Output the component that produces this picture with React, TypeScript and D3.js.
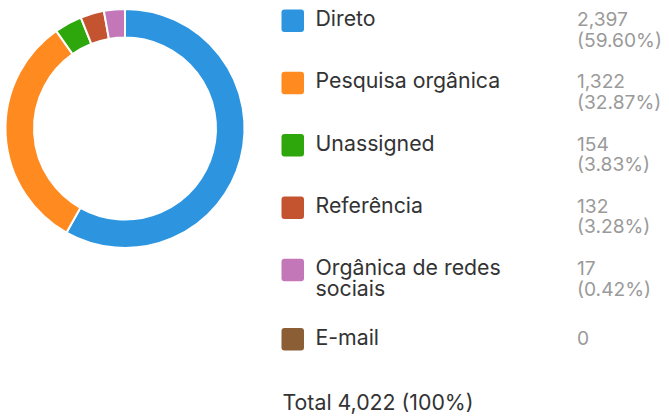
import React, { useMemo } from "react";
import * as d3 from "d3";

const categories = ["Direto", "Pesquisa orgânica", "Unassigned", "Referência", "Orgânica de redes sociais", "E-mail"];
const values = [2397, 1322, 154, 132, 17, 0];
const colors = ["#2D95E0", "#FF8A1F", "#2DA70B", "#C4532F", "#C376B8", "#8B5E35"];
const totalLabel = "Total";

const W = 669;
const H = 416;
const FONT = "Inter, 'Noto Sans', sans-serif";

function measure(text: string, size: number): number {
  const c = document.createElement("canvas").getContext("2d");
  if (!c) return text.length * size * 0.55;
  c.font = `${size}px Inter`;
  return c.measureText(text).width;
}

function wrap(text: string, size: number, maxW: number): string[] {
  const words = text.split(" ");
  const lines: string[] = [];
  let cur = "";
  for (const w of words) {
    const t = cur ? cur + " " + w : w;
    if (cur && measure(t, size) > maxW) {
      lines.push(cur);
      cur = w;
    } else cur = t;
  }
  if (cur) lines.push(cur);
  return lines;
}

export default function App() {
  const total = d3.sum(values);
  const minFrac = 0.029;
  const display = values.map((v) => (v > 0 ? Math.max(v, minFrac * total) : 0));
  const pie = d3.pie<number>().sort(null).value((d) => d)(display);
  const arc = d3.arc<d3.PieArcDatum<number>>().innerRadius(91).outerRadius(119.5);
  const cx = 125;
  const cy = 128.5;

  const fmt = d3.format(",");
  const nameSize = 21.3;
  const valSize = 19.2;
  const lineH = 20.5;
  const rowStep = 62.3;
  const rowTop0 = 9.5;

  const rows = useMemo(
    () =>
      categories.map((c, i) => {
        const nameLines = wrap(c, nameSize, 240);
        const valLines = values[i] > 0 ? [fmt(values[i]), `(${((values[i] / total) * 100).toFixed(2)}%)`] : [fmt(values[i])];
        return { nameLines, valLines };
      }),
    []
  );

  return (
    <svg width={W} height={H} style={{ position: "absolute", left: 0, top: 0, background: "#fff" }} fontFamily={FONT}>
      <g transform={`translate(${cx},${cy})`}>
        {pie.map((p, i) =>
          p.endAngle - p.startAngle > 0 ? (
            <path key={i} d={arc(p) || ""} fill={colors[i]} stroke="#fff" strokeWidth={2} />
          ) : null
        )}
      </g>
      {rows.map((r, i) => {
        const lines = Math.max(r.nameLines.length, r.valLines.length);
        const top = rowTop0 + rowStep * i + (lines < 2 ? 7 : 0);
        const base = top + 16.5;
        return (
          <g key={i}>
            <rect x={281.5} y={top} width={22.5} height={22.5} rx={3} fill={colors[i]} />
            <text x={315.5} y={base} fontSize={nameSize} fill="#333">
              {r.nameLines.map((l, j) => (
                <tspan key={j} x={315.5} y={base + j * lineH}>{l}</tspan>
              ))}
            </text>
            <text x={577} y={base} fontSize={valSize} fill="#9a9a9a">
              {r.valLines.map((l, j) => (
                <tspan key={j} x={577} y={base + j * lineH}>{l}</tspan>
              ))}
            </text>
          </g>
        );
      })}
      <text x={282.5} y={410} fontSize={21.3} fill="#333">
        {`${totalLabel} ${fmt(total)} (100%)`}
      </text>
    </svg>
  );
}
